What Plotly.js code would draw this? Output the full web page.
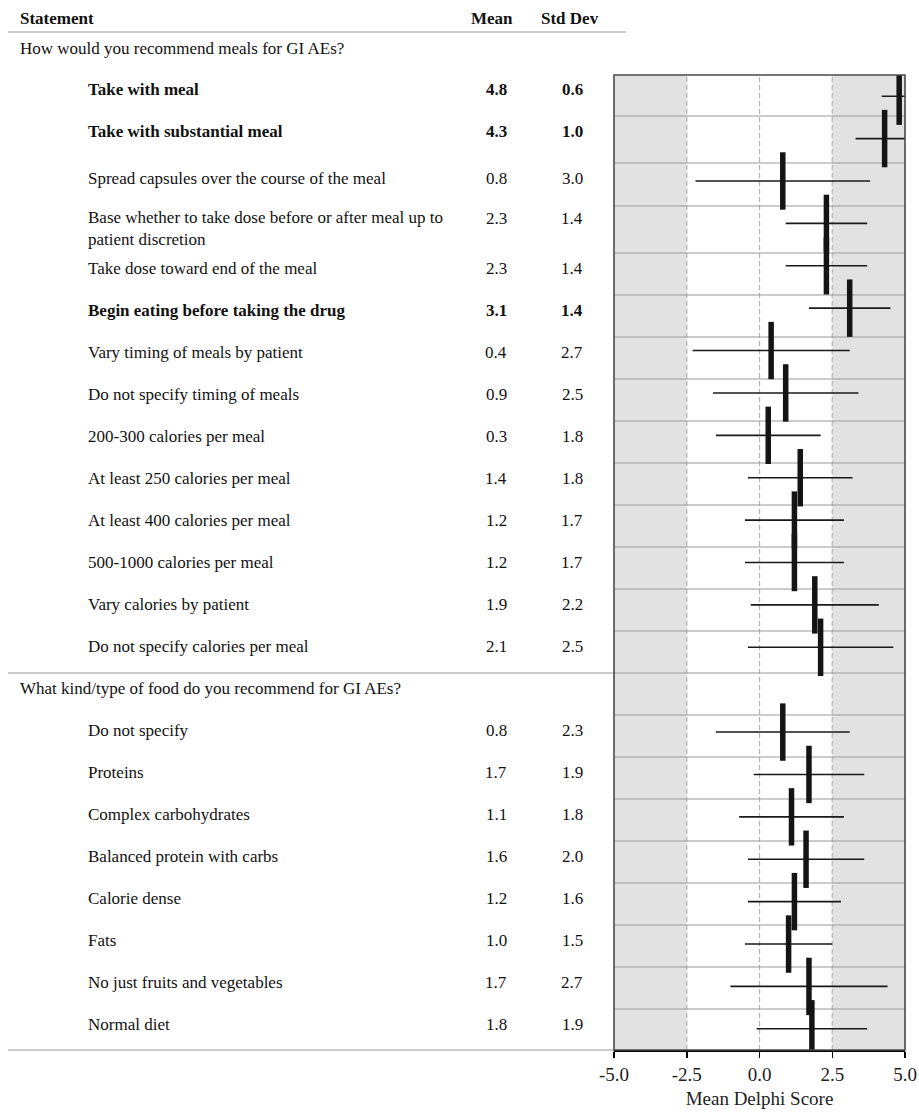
<!DOCTYPE html>
<html>
<head>
<meta charset="utf-8">
<script src="https://cdn.plot.ly/plotly-3.0.1.min.js"></script>
<style>html,body{margin:0;padding:0;background:#fff;}</style>
</head>
<body>
<div id="chart" style="width:919px;height:1112px;"></div>
<script>
// Survey questions and their statements (Delphi panel, mean and standard deviation)
const questions = [
  "How would you recommend meals for GI AEs?",
  "What kind/type of food do you recommend for GI AEs?"
];

const mealStatements = [
  "Take with meal",
  "Take with substantial meal",
  "Spread capsules over the course of the meal",
  "Base whether to take dose before or after meal up to<br>patient discretion",
  "Take dose toward end of the meal",
  "Begin eating before taking the drug",
  "Vary timing of meals by patient",
  "Do not specify timing of meals",
  "200-300 calories per meal",
  "At least 250 calories per meal",
  "At least 400 calories per meal",
  "500-1000 calories per meal",
  "Vary calories by patient",
  "Do not specify calories per meal"
];
const mealMeans = [4.8, 4.3, 0.8, 2.3, 2.3, 3.1, 0.4, 0.9, 0.3, 1.4, 1.2, 1.2, 1.9, 2.1];
const mealSD    = [0.6, 1.0, 3.0, 1.4, 1.4, 1.4, 2.7, 2.5, 1.8, 1.8, 1.7, 1.7, 2.2, 2.5];

const foodStatements = [
  "Do not specify",
  "Proteins",
  "Complex carbohydrates",
  "Balanced protein with carbs",
  "Calorie dense",
  "Fats",
  "No just fruits and vegetables",
  "Normal diet"
];
const foodMeans = [0.8, 1.7, 1.1, 1.6, 1.2, 1.0, 1.7, 1.8];
const foodSD    = [2.3, 1.9, 1.8, 2.0, 1.6, 1.5, 2.7, 1.9];

const columnHeaders = ["Statement", "Mean", "Std Dev"];
const xTickVals = [-5, -2.5, 0, 2.5, 5];
const xTickText = ["-5.0", "-2.5", "0.0", "2.5", "5.0"];
const xAxisTitle = "Mean Delphi Score";
const consensusCutoff = 3.0;   // statements at or above this mean are set in bold

// ---- page geometry (pixels) ----
const W = 919, H = 1112;
const PX = p => p / W;
const PY = p => 1 - p / H;
const PLOT_L = 614, PLOT_R = 905, PLOT_T = 75, PLOT_B = 1050;
const TABLE_L = 8;
const COL_QUESTION = 18, COL_STATEMENT = 86, COL_MEAN = 496, COL_SD = 572;
const FONT = "Liberation Serif, Times New Roman, serif";
const TEXT_SIZE = 17;
const LINE_H = 21;

// build the row list: the first question heads the table, later ones take a row
const groups = [
  {question: questions[0], statements: mealStatements, means: mealMeans, sds: mealSD},
  {question: questions[1], statements: foodStatements, means: foodMeans, sds: foodSD}
];
const rows = [];
groups.forEach((g, gi) => {
  if (gi > 0) rows.push({type: "question", text: g.question});
  g.statements.forEach((s, k) => rows.push({type: "item", text: s, mean: g.means[k], sd: g.sds[k]}));
});
rows.forEach((r, i) => { r.index = i; });

// table row tops: the first few rows are taller (bold / wrapped text)
const firstHeights = [41, 47, 43, 47];
const rowTops = [];
let yCursor = PLOT_T;
rows.forEach((r, i) => {
  rowTops.push(yCursor);
  yCursor += (i < firstHeights.length) ? firstHeights[i] : 42;
});

const items = rows.filter(r => r.type === "item");

const trace = {
  type: "scatter",
  mode: "markers",
  x: items.map(r => r.mean),
  y: items.map(r => r.index),
  error_x: {
    type: "data",
    array: items.map(r => r.sd),
    symmetric: true,
    visible: true,
    width: 0,
    thickness: 1.6,
    color: "#1a1a1a"
  },
  marker: {
    symbol: "line-ns",
    size: 41,
    color: "#141414",
    line: {width: 5.5, color: "#141414"}
  },
  hoverinfo: "skip",
  showlegend: false
};

// ---- table text ----
const annotations = [];
function addText(text, px, py, anchor, bold) {
  annotations.push({
    xref: "paper", yref: "paper",
    x: PX(px), y: PY(py),
    xanchor: anchor, yanchor: "middle",
    text: bold ? "<b>" + text + "</b>" : text,
    showarrow: false, align: "left",
    font: {family: FONT, size: TEXT_SIZE, color: "#111"}
  });
}

addText(columnHeaders[0], COL_QUESTION, 18, "left", true);
addText(columnHeaders[1], 492, 18, "center", true);
addText(columnHeaders[2], 570, 18, "center", true);
addText(groups[0].question, COL_QUESTION, 49, "left", false);

rows.forEach((r, i) => {
  const nLines = r.text.split("<br>").length;
  const firstLine = rowTops[i] + 15 - (nLines > 1 ? 3 : 0);
  const cy = firstLine + (nLines - 1) * LINE_H / 2;
  if (r.type === "question") {
    addText(r.text, COL_QUESTION, cy, "left", false);
  } else {
    const bold = r.mean >= consensusCutoff;
    addText(r.text, COL_STATEMENT, cy, "left", bold);
    // values sit on the first line of a wrapped statement
    addText(r.mean.toFixed(1), COL_MEAN, firstLine, "center", bold);
    addText(r.sd.toFixed(1), COL_SD, firstLine, "center", bold);
  }
});

// ---- shapes: shading, reference lines, rules ----
const shapes = [];
const GRID = "#9a9a9a";
// outer zones of the score scale
[[-5, -2.5], [2.5, 5]].forEach(([a, b]) => shapes.push({
  type: "rect", layer: "below", xref: "x", yref: "paper",
  x0: a, x1: b, y0: PY(PLOT_B), y1: PY(PLOT_T),
  fillcolor: "#e2e2e2", line: {width: 0}
}));
// dashed reference lines
[-2.5, 0, 2.5].forEach(v => shapes.push({
  type: "line", layer: "below", xref: "x", yref: "paper",
  x0: v, x1: v, y0: PY(PLOT_B), y1: PY(PLOT_T),
  line: {color: "#b4b4b4", width: 1.3, dash: "5px,3px"}
}));
// row rules inside the plot; a question row's rule spans the whole table
rows.forEach((r, i) => {
  if (i === 0) return;
  const left = r.type === "question" ? TABLE_L : PLOT_L;
  shapes.push({
    type: "line", layer: "below", xref: "paper", yref: "paper",
    x0: PX(left), x1: PX(PLOT_R), y0: PY(rowTops[i]), y1: PY(rowTops[i]),
    line: {color: GRID, width: 1.2}
  });
});
// header rule and closing rule
shapes.push({type: "line", xref: "paper", yref: "paper",
  x0: PX(TABLE_L), x1: PX(626), y0: PY(32), y1: PY(32), line: {color: GRID, width: 1.2}});
shapes.push({type: "line", xref: "paper", yref: "paper",
  x0: PX(TABLE_L), x1: PX(PLOT_L), y0: PY(PLOT_B), y1: PY(PLOT_B), line: {color: GRID, width: 1.2}});
// plot frame
shapes.push({type: "rect", layer: "above", xref: "paper", yref: "paper",
  x0: PX(PLOT_L), x1: PX(PLOT_R), y0: PY(PLOT_B), y1: PY(PLOT_T),
  line: {color: "#4a4a4a", width: 1.6}, fillcolor: "rgba(0,0,0,0)"});

const layout = {
  width: W, height: H,
  margin: {l: 0, r: 0, t: 0, b: 0, pad: 0},
  paper_bgcolor: "#fff",
  plot_bgcolor: "#fff",
  font: {family: FONT, size: TEXT_SIZE, color: "#111"},
  showlegend: false,
  xaxis: {
    domain: [PX(PLOT_L), PX(PLOT_R)],
    range: [-5, 5],
    tickvals: xTickVals,
    ticktext: xTickText,
    ticks: "outside", ticklen: 6, tickwidth: 1.5, tickcolor: "#000",
    showline: true, linecolor: "#000", linewidth: 2,
    showgrid: false, zeroline: false,
    tickfont: {family: FONT, size: 19, color: "#222"},
    title: {text: xAxisTitle, font: {family: FONT, size: 19, color: "#222"}, standoff: 8},
    fixedrange: true
  },
  yaxis: {
    domain: [PY(PLOT_B), PY(PLOT_T)],
    range: [rows.length - 0.5, -0.5],
    visible: false,
    showgrid: false, zeroline: false,
    fixedrange: true
  },
  shapes: shapes,
  annotations: annotations
};

Plotly.newPlot("chart", [trace], layout, {displayModeBar: false, staticPlot: true});
</script>
</body>
</html>
